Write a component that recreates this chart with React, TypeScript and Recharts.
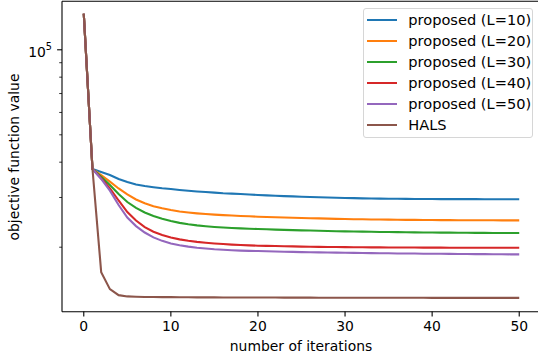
import { Line, LineChart, ReferenceLine, XAxis, YAxis } from "recharts"

const iterations = [
  0, 1, 2, 3, 4, 5, 6, 7, 8, 9, 10, 11, 12, 13, 14, 15, 16, 17, 18, 19, 20, 21, 22, 23, 24, 25,
  26, 27, 28, 29, 30, 31, 32, 33, 34, 35, 36, 37, 38, 39, 40, 41, 42, 43, 44, 45, 46, 47, 48, 49, 50,
]

const l10 = [
  134200, 37840, 36930, 36030, 34880, 34030, 33340, 32940, 32620, 32350, 32140, 31900, 31700, 31500,
  31350, 31200, 31050, 30950, 30850, 30720, 30610, 30520, 30430, 30340, 30260, 30190, 30120, 30050,
  29990, 29930, 29870, 29830, 29790, 29760, 29730, 29700, 29680, 29660, 29640, 29630, 29620, 29610,
  29600, 29600, 29590, 29590, 29580, 29580, 29570, 29570, 29560,
]

const l20 = [
  134200, 37840, 36030, 34120, 32280, 30740, 29510, 28610, 27940, 27460, 27080, 26750, 26540, 26360,
  26210, 26080, 25980, 25890, 25810, 25730, 25650, 25590, 25530, 25480, 25430, 25380, 25330, 25290,
  25240, 25200, 25160, 25130, 25110, 25080, 25060, 25040, 25020, 25000, 24990, 24970, 24960, 24950,
  24940, 24930, 24930, 24920, 24910, 24910, 24900, 24900, 24900,
]

const l30 = [
  134200, 37840, 35540, 33210, 30870, 28910, 27570, 26540, 25790, 25200, 24760, 24390, 24120, 23900,
  23730, 23590, 23480, 23380, 23310, 23250, 23190, 23140, 23090, 23040, 22990, 22950, 22910, 22870,
  22830, 22790, 22760, 22730, 22700, 22680, 22650, 22630, 22610, 22590, 22570, 22560, 22540, 22530,
  22520, 22500, 22490, 22480, 22470, 22460, 22460, 22450, 22450,
]

const l40 = [
  134200, 37840, 35080, 32330, 29270, 26640, 24860, 23570, 22690, 22080, 21640, 21320, 21080, 20890,
  20740, 20620, 20520, 20430, 20370, 20300, 20250, 20220, 20190, 20150, 20130, 20100, 20080, 20060,
  20040, 20030, 20020, 20000, 19990, 19980, 19970, 19960, 19950, 19950, 19940, 19940, 19930, 19930,
  19920, 19920, 19910, 19910, 19910, 19900, 19900, 19900, 19900,
]

const l50 = [
  134200, 37840, 34880, 31700, 28210, 25470, 23760, 22540, 21670, 21060, 20630, 20320, 20090, 19900,
  19780, 19660, 19580, 19520, 19450, 19410, 19380, 19340, 19310, 19280, 19250, 19220, 19200, 19180,
  19150, 19130, 19110, 19090, 19080, 19060, 19040, 19030, 19010, 19000, 18990, 18970, 18960, 18950,
  18940, 18930, 18920, 18910, 18900, 18890, 18880, 18870, 18860,
]

const hals = [
  134200, 37840, 16320, 14210, 13530, 13390, 13350, 13330, 13320, 13310, 13310, 13300, 13300, 13290,
  13290, 13290, 13280, 13280, 13280, 13270, 13270, 13270, 13270, 13260, 13260, 13260, 13260, 13250,
  13250, 13250, 13250, 13250, 13250, 13240, 13240, 13240, 13240, 13240, 13240, 13240, 13230, 13230,
  13230, 13230, 13230, 13230, 13230, 13230, 13230, 13230, 13230,
]

const xTicks = [0, 10, 20, 30, 40, 50]
const yTicks = [20000, 30000, 40000, 50000, 60000, 70000, 80000, 90000, 100000]

const series = [
  { key: "l10", name: "proposed (L=10)", color: "#1f77b4", values: l10 },
  { key: "l20", name: "proposed (L=20)", color: "#ff7f0e", values: l20 },
  { key: "l30", name: "proposed (L=30)", color: "#2ca02c", values: l30 },
  { key: "l40", name: "proposed (L=40)", color: "#d62728", values: l40 },
  { key: "l50", name: "proposed (L=50)", color: "#9467bd", values: l50 },
  { key: "hals", name: "HALS", color: "#8c564b", values: hals },
]

const data = iterations.map((it, i) => {
  const row: Record<string, number> = { iter: it }
  series.forEach((s) => {
    row[s.key] = s.values[i]
  })
  return row
})

const FONT = "'DejaVu Sans', sans-serif"
const AXIS_X = 62
const AXIS_Y = 311.5
const Y_MAX = 148600

function XTick(props: any) {
  const { x, payload } = props
  return (
    <g>
      <line x1={x} x2={x} y1={AXIS_Y} y2={AXIS_Y + 4.9} stroke="#000" strokeWidth={1.1} />
      <text x={x} y={331} textAnchor="middle" fontSize={13.9} fill="#000" fontFamily={FONT}>
        {payload.value}
      </text>
    </g>
  )
}

function YTick(props: any) {
  const { y, payload } = props
  const major = payload.value === 100000
  return (
    <g>
      <line
        x1={AXIS_X - (major ? 4.9 : 2.8)}
        x2={AXIS_X}
        y1={y}
        y2={y}
        stroke="#000"
        strokeWidth={major ? 1.1 : 0.8}
      />
      {major && (
        <text x={52} y={y + 7.3} textAnchor="end" fontSize={13.9} fill="#000" fontFamily={FONT}>
          10
          <tspan dy={-6.6} fontSize={9.7}>
            5
          </tspan>
        </text>
      )}
    </g>
  )
}

export default function App() {
  return (
    <div
      style={{
        position: "absolute",
        left: 0,
        top: 0,
        width: 538,
        height: 360,
        overflow: "hidden",
        background: "#fff",
        fontFamily: FONT,
      }}
    >
      <LineChart width={541} height={360} data={data} margin={{ top: 1.2, right: 0, left: 0, bottom: 0 }}>
        <XAxis
          dataKey="iter"
          type="number"
          domain={[-2.5, 52.5]}
          ticks={xTicks}
          allowDataOverflow
          height={48.3}
          axisLine={{ stroke: "#000", strokeWidth: 1.1 }}
          tickLine={false}
          tick={<XTick />}
          interval={0}
        />
        <YAxis
          scale="log"
          type="number"
          domain={[11822, Y_MAX]}
          allowDataOverflow
          ticks={yTicks}
          width={62}
          axisLine={{ stroke: "#000", strokeWidth: 1.1 }}
          tickLine={false}
          tick={<YTick />}
          interval={0}
        />
        <ReferenceLine y={Y_MAX} stroke="#000" strokeWidth={1.1} />
        {series.map((s) => (
          <Line
            key={s.key}
            type="linear"
            dataKey={s.key}
            name={s.name}
            stroke={s.color}
            strokeWidth={2.1}
            dot={false}
            activeDot={false}
            isAnimationActive={false}
          />
        ))}
      </LineChart>

      {/* legend box, matplotlib style */}
      <div
        style={{
          position: "absolute",
          left: 362.7,
          top: 8.3,
          width: 168.6,
          border: "1px solid #d6d6d6",
          borderRadius: 3,
          background: "rgba(255,255,255,0.8)",
          paddingTop: 0.5,
          paddingBottom: 1,
          fontSize: 14.6,
          color: "#000",
        }}
      >
        {series.map((s) => (
          <div key={s.key} style={{ height: 21, display: "flex", alignItems: "center" }}>
            <span style={{ width: 30.6, height: 2.1, background: s.color, marginLeft: 3 }} />
            <span style={{ marginLeft: 11, whiteSpace: "nowrap", lineHeight: 1 }}>{s.name}</span>
          </div>
        ))}
      </div>

      <div
        style={{
          position: "absolute",
          left: 301,
          top: 347,
          transform: "translate(-50%, -50%)",
          fontSize: 13.9,
          lineHeight: 1,
          whiteSpace: "nowrap",
          color: "#000",
        }}
      >
        number of iterations
      </div>
      <div
        style={{
          position: "absolute",
          left: 15,
          top: 156.5,
          transform: "translate(-50%, -50%) rotate(-90deg)",
          fontSize: 13.9,
          lineHeight: 1,
          whiteSpace: "nowrap",
          color: "#000",
        }}
      >
        objective function value
      </div>
    </div>
  )
}
